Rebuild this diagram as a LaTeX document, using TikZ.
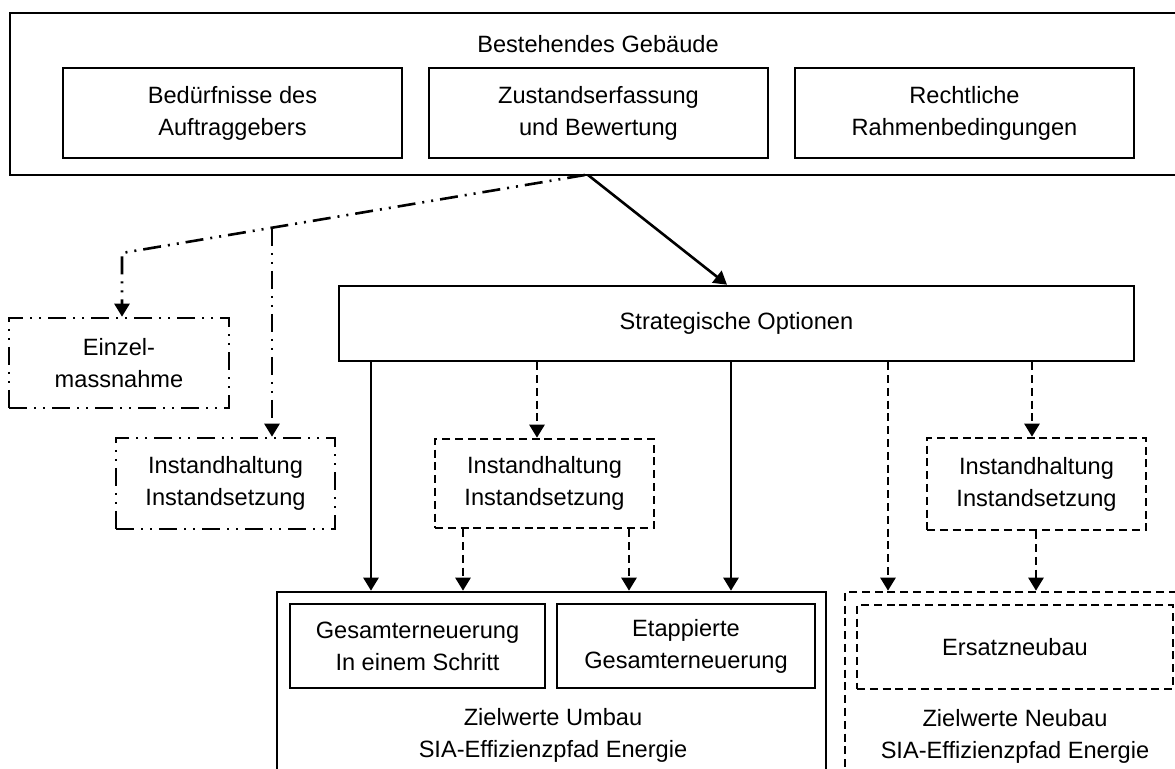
\documentclass[tikz,border=0pt]{standalone}
\usepackage{fontspec}
\setmainfont{Liberation Sans}
\usetikzlibrary{arrows.meta,calc}
\tikzset{
  base/.style={line width=1.3pt},
  lbl/.style={inner sep=0pt, align=center, font=\fontsize{11.8pt}{16pt}\selectfont},
  box/.style={lbl, base, draw, rectangle},
  dashbox/.style={box, dash pattern=on 4pt off 2.4pt},
  ddbox/.style={box, dash pattern=on 9pt off 3.5pt on 1pt off 3.5pt on 1pt off 3.5pt},
  arr/.style={base, -{Triangle[length=6.5pt,width=7.5pt]}},
  darr/.style={arr, dash pattern=on 4pt off 2.4pt},
  ddarr/.style={arr, dash pattern=on 9pt off 3.5pt on 1pt off 3.5pt on 1pt off 3.5pt},
}
\begin{document}
\begin{tikzpicture}[x=0.5pt,y=-0.5pt]
\useasboundingbox (0,0) rectangle (1175,769);
\clip (0,0) rectangle (1175,769);

% top block
\node[box, minimum width=588pt, minimum height=81pt] (topbox) at (598,94) {};
\node[lbl] (toplabel) at (598,44) {Bestehendes Gebäude};
\node[box, minimum width=169.5pt, minimum height=45pt] (needs) at (232.5,113) {Bedürfnisse des\\Auftraggebers};
\node[box, minimum width=169.5pt, minimum height=45pt] (state) at (598.5,113) {Zustandserfassung\\und Bewertung};
\node[box, minimum width=169.5pt, minimum height=45pt] (legal) at (964.5,113) {Rechtliche\\Rahmenbedingungen};

% strategic options
\node[box, minimum width=397.5pt, minimum height=37.5pt] (strat) at (736.5,323.5) {Strategische Optionen};

% left dash-dot boxes
\node[ddbox, minimum width=110pt, minimum height=45pt] (einzel) at (119,363) {Einzel-\\massnahme};
\node[ddbox, minimum width=109.5pt, minimum height=45.5pt] (lih) at (225.5,483.5) {Instandhaltung\\Instandsetzung};

% dashed maintenance boxes
\node[dashbox, minimum width=109.5pt, minimum height=44.5pt] (mih) at (544.5,483.5) {Instandhaltung\\Instandsetzung};
\node[dashbox, minimum width=109.5pt, minimum height=46pt] (rih) at (1036.5,484) {Instandhaltung\\Instandsetzung};

% Umbau block
\node[box, minimum width=274.5pt, minimum height=114pt] (umbau) at (551.5,706) {};
\node[box, minimum width=127.5pt, minimum height=42pt] (gesamt) at (417.5,646) {Gesamterneuerung\\In einem Schritt};
\node[box, minimum width=129pt, minimum height=42pt] (etapp) at (686,646) {Etappierte\\Gesamterneuerung};
\node[lbl] (umbaulabel) at (553,735) {Zielwerte Umbau\\SIA-Effizienzpfad Energie};

% Neubau block
\node[dashbox, minimum width=170pt, minimum height=114pt] (neubau) at (1015,706) {};
\node[dashbox, minimum width=158pt, minimum height=42pt] (ersatz) at (1015,647) {Ersatzneubau};
\node[lbl] (neubaulabel) at (1015,736) {Zielwerte Neubau\\SIA-Effizienzpfad Energie};

% helper coordinates
\coordinate (tA) at (588,175);
\coordinate (tB) at (585,175);
\coordinate (sA) at (727,0);
\coordinate (dd1) at (122,253);
\coordinate (dd2) at (272,228);
\coordinate (c1) at (371,0);
\coordinate (c2) at (537,0);
\coordinate (c3) at (731,0);
\coordinate (c4) at (888,0);
\coordinate (c5) at (1032,0);
\coordinate (c6) at (463,0);
\coordinate (c7) at (629,0);
\coordinate (c8) at (1036,0);

% connectors
\draw[arr] (tA) -- (strat.north -| sA);
\draw[ddarr] (tB) -- (dd1) -- (dd1 |- einzel.north);
\draw[ddarr] (dd2) -- (dd2 |- lih.north);

\draw[arr] (strat.south -| c1) -- (umbau.north -| c1);
\draw[darr] (strat.south -| c2) -- (mih.north -| c2);
\draw[arr] (strat.south -| c3) -- (umbau.north -| c3);
\draw[darr] (strat.south -| c4) -- (neubau.north -| c4);
\draw[darr] (strat.south -| c5) -- (rih.north -| c5);

\draw[darr] (mih.south -| c6) -- (umbau.north -| c6);
\draw[darr] (mih.south -| c7) -- (umbau.north -| c7);
\draw[darr] (rih.south -| c8) -- (neubau.north -| c8);
\end{tikzpicture}
\end{document}
